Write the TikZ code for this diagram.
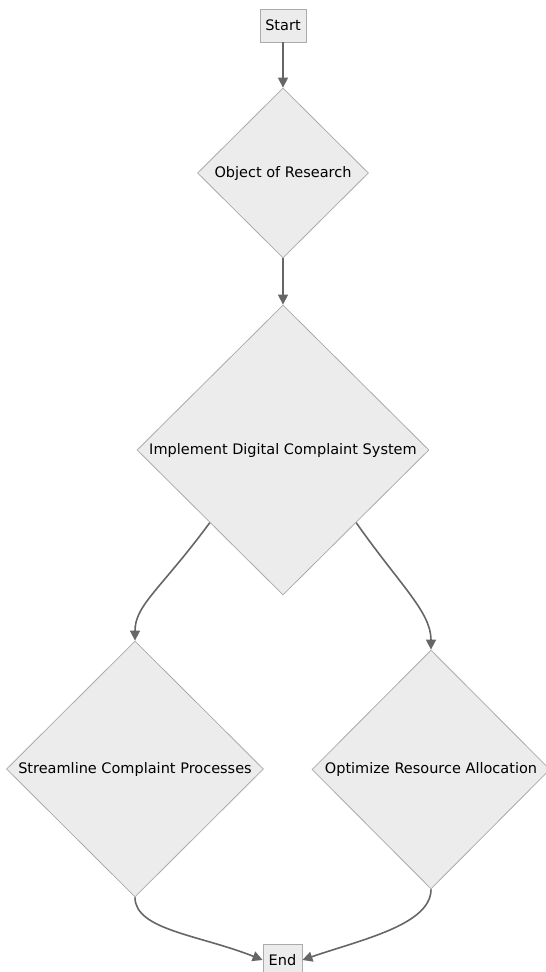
\documentclass[tikz,border=0pt]{standalone}
\usepackage{fontspec}
\setmainfont{DejaVu Sans}
\usetikzlibrary{shapes.geometric,arrows.meta}
\definecolor{nodefill}{HTML}{ECECEC}
\definecolor{nodeline}{HTML}{ABABAB}
\definecolor{edgecol}{HTML}{666666}
\tikzset{
  boxnode/.style={draw=nodeline, fill=nodefill, line width=0.8pt, minimum width=46pt, minimum height=33pt, inner sep=0pt, font=\fontsize{14.5}{17}\selectfont},
  dianode/.style={draw=nodeline, fill=nodefill, line width=0.8pt, diamond, aspect=1, inner sep=0pt, font=\fontsize{14.5}{17}\selectfont},
  edge/.style={draw=edgecol, line width=1.6pt, -{Triangle[length=10pt,width=10pt]}}
}
\begin{document}
\begin{tikzpicture}[x=1pt,y=-1pt]
\useasboundingbox (0,0) rectangle (546,972);
\node[boxnode] (start) at (283,25.5) {Start};
\node[dianode, minimum width=171pt, minimum height=170pt] (obj) at (283,173) {Object of Research};
\node[dianode, minimum width=292pt, minimum height=290pt] (impl) at (283,450) {Implement Digital Complaint System};
\node[dianode, minimum width=257pt, minimum height=256pt] (stream) at (135,769) {Streamline Complaint Processes};
\node[dianode, minimum width=238pt, minimum height=239pt] (opt) at (431,769.5) {Optimize Resource Allocation};
\node[boxnode, minimum width=39pt, minimum height=32pt] (end) at (282.5,960) {End};
\draw[edge] (start) -- (obj);
\draw[edge] (obj) -- (impl);
\draw[edge] (impl.south west) .. controls (160,590) and (135,605) .. (stream.north);
\draw[edge] (impl.south east) .. controls (400,585) and (431,612) .. (opt.north);
\draw[edge] (stream.south) .. controls (135,930) and (200,935) .. (end.west);
\draw[edge] (opt.south) .. controls (431,925) and (360,940) .. (end.east);
\end{tikzpicture}
\end{document}
